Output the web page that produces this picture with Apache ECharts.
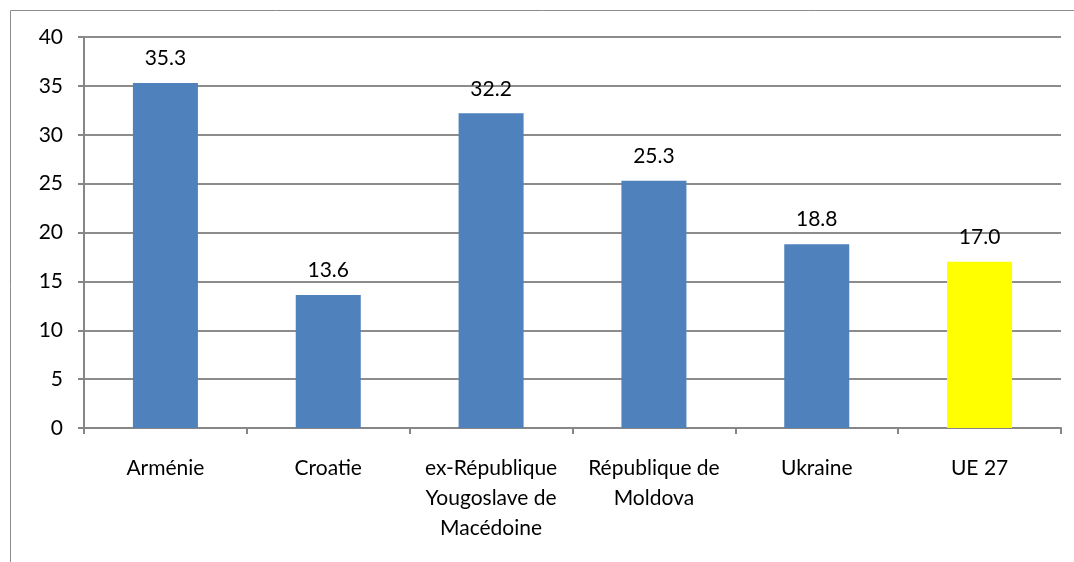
<!DOCTYPE html>
<html>
<head>
<meta charset="utf-8">
<script src="https://cdn.jsdelivr.net/npm/echarts@6/dist/echarts.min.js"></script>
<style>
  html, body { margin: 0; padding: 0; background: #fff; }
  #chart { width: 1074px; height: 562px; }
</style>
</head>
<body>
<div id="chart"></div>
<script>
// données
const categories = ["Arménie", "Croatie", "ex-République\nYougoslave de\nMacédoine", "République de\nMoldova", "Ukraine", "UE 27"];
const values = [35.3, 13.6, 32.2, 25.3, 18.8, 17.0];
const barColors = ["#4f81bd", "#4f81bd", "#4f81bd", "#4f81bd", "#4f81bd", "#ffff00"];

const chart = echarts.init(document.getElementById("chart"));

const option = {
  backgroundColor: "#fff",
  animation: false,
  textStyle: { fontFamily: "Lato", color: "#000" },
  graphic: [
    {
      type: "rect",
      shape: { x: 10.5, y: 10.5, width: 1100, height: 600 },
      style: { fill: "none", stroke: "#8c8c8c", lineWidth: 1 },
      silent: true
    }
  ],
  grid: { left: 84, right: 13, top: 37, bottom: 134, containLabel: false },
  xAxis: {
    type: "category",
    data: categories,
    axisLine: { lineStyle: { color: "#868686", width: 2 } },
    axisTick: { show: true, alignWithLabel: false, length: 6, lineStyle: { color: "#868686", width: 2 } },
    axisLabel: { fontSize: 21, lineHeight: 30, margin: 25, color: "#000", interval: 0 },
    splitLine: { show: false }
  },
  yAxis: {
    type: "value",
    min: 0,
    max: 40,
    interval: 5,
    axisLine: { show: true, lineStyle: { color: "#868686", width: 2 } },
    axisTick: { show: true, length: 6, lineStyle: { color: "#868686", width: 2 } },
    axisLabel: { fontSize: 21, margin: 21, color: "#000" },
    splitLine: { lineStyle: { color: "#8c8c8c", width: 2 } }
  },
  series: [
    {
      type: "bar",
      data: values.map((v, i) => ({ value: v, itemStyle: { color: barColors[i] } })),
      barWidth: 65,
      label: {
        show: true,
        position: "top",
        distance: 14,
        fontSize: 21,
        color: "#000",
        formatter: p => p.value.toFixed(1)
      }
    }
  ]
};

chart.setOption(option);
</script>
</body>
</html>
